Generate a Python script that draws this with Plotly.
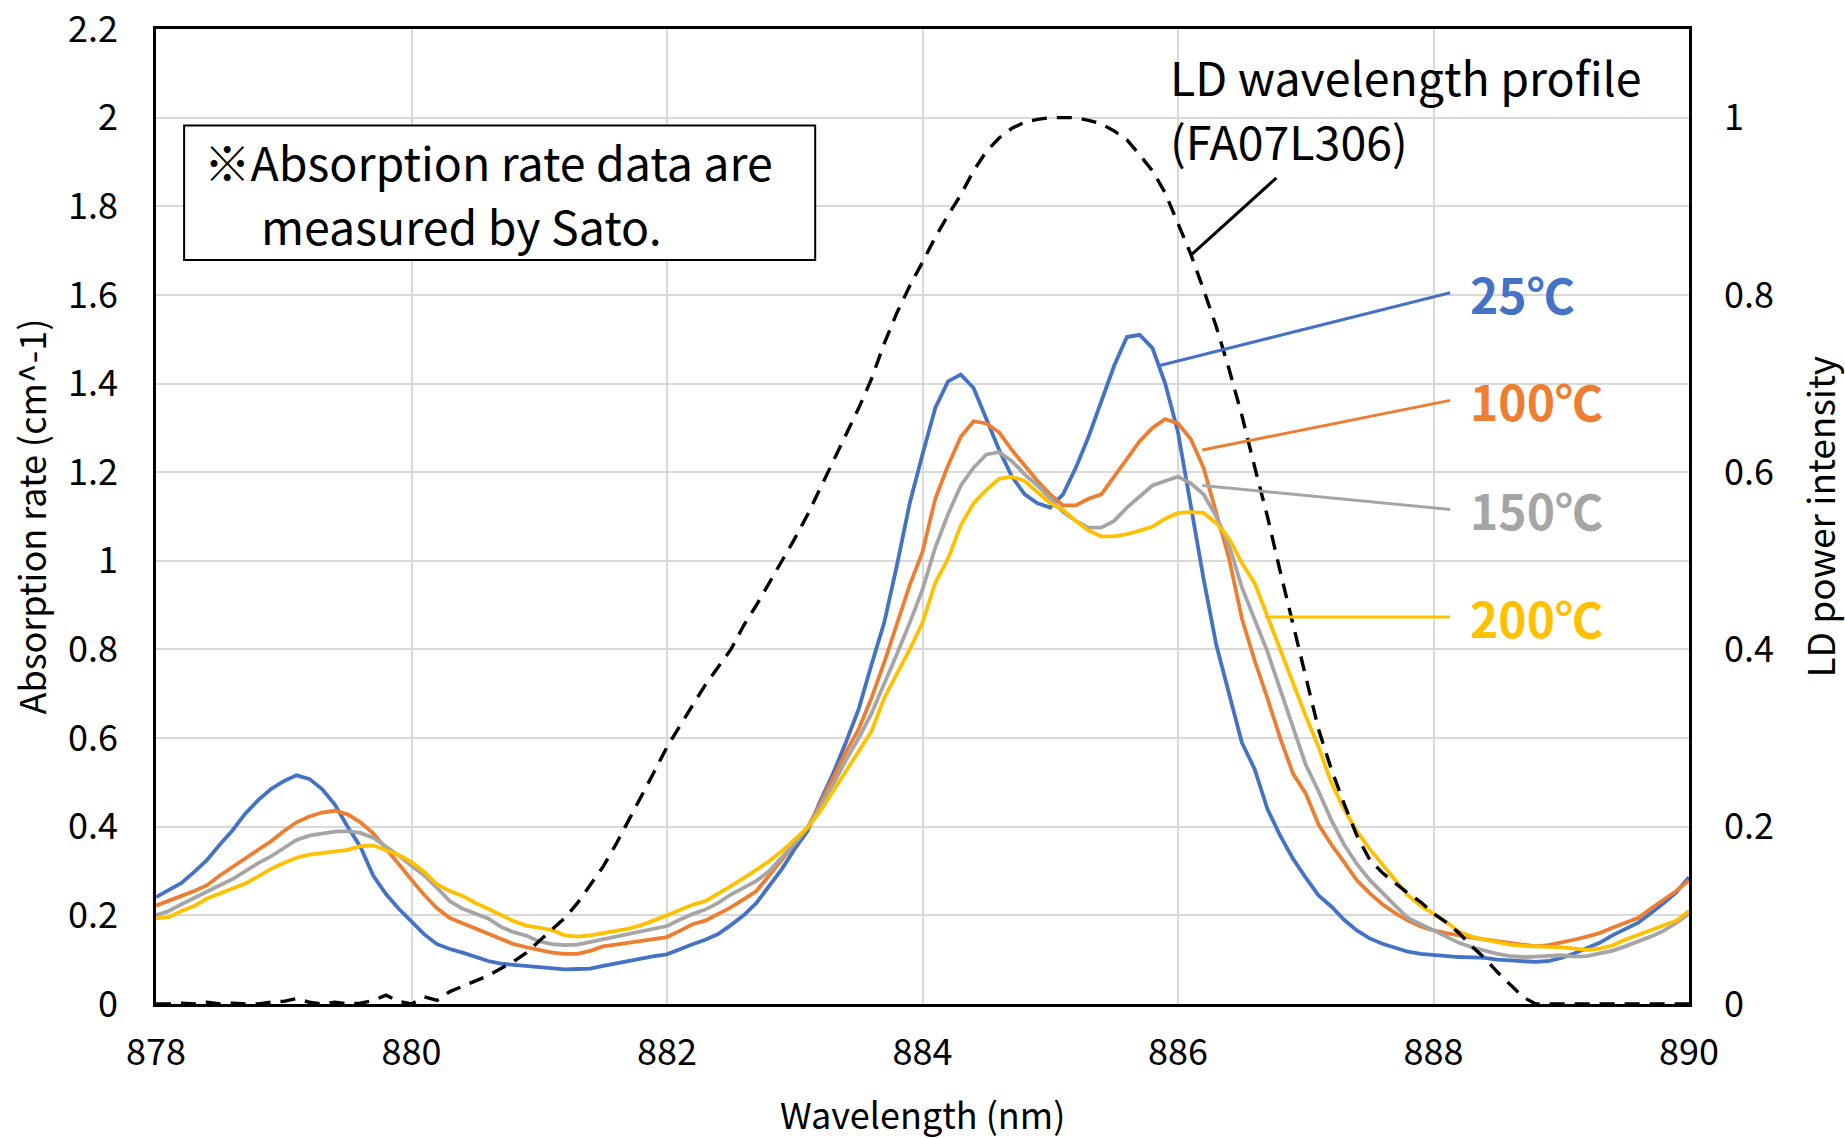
import plotly.graph_objects as go

# ---------------- data ----------------
wavelength = [round(878 + 0.1 * i, 1) for i in range(121)]

abs_25c = [
    0.241, 0.256, 0.273, 0.298, 0.325, 0.360, 0.392, 0.430, 0.460, 0.485,
    0.503, 0.516, 0.508, 0.485, 0.450, 0.400, 0.355, 0.290, 0.248, 0.215,
    0.185, 0.157, 0.135, 0.124, 0.116, 0.106, 0.097, 0.091, 0.088, 0.085,
    0.083, 0.079, 0.078, 0.079, 0.080, 0.086, 0.092, 0.097, 0.103, 0.108,
    0.112, 0.124, 0.135, 0.145, 0.158, 0.178, 0.200, 0.228, 0.265, 0.305,
    0.350, 0.390, 0.458, 0.520, 0.590, 0.665, 0.765, 0.860, 0.990, 1.130,
    1.240, 1.345, 1.405, 1.420, 1.390, 1.320, 1.250, 1.190, 1.150, 1.130,
    1.120, 1.150, 1.210, 1.280, 1.360, 1.440, 1.505, 1.510, 1.480, 1.400,
    1.290, 1.120, 0.960, 0.810, 0.700, 0.590, 0.530, 0.440, 0.380, 0.328,
    0.285, 0.245, 0.220, 0.190, 0.166, 0.148, 0.136, 0.126, 0.118, 0.113,
    0.110, 0.108, 0.106, 0.105, 0.104, 0.100, 0.098, 0.096, 0.095, 0.097,
    0.104, 0.114, 0.126, 0.138, 0.155, 0.170, 0.183, 0.205, 0.227, 0.252,
    0.286,
]

abs_100c = [
    0.222, 0.234, 0.244, 0.255, 0.268, 0.290, 0.310, 0.330, 0.348, 0.367,
    0.390, 0.410, 0.423, 0.432, 0.436, 0.428, 0.410, 0.385, 0.352, 0.316,
    0.280, 0.246, 0.216, 0.194, 0.182, 0.170, 0.158, 0.147, 0.135, 0.128,
    0.122, 0.116, 0.113, 0.113, 0.120, 0.130, 0.134, 0.138, 0.142, 0.146,
    0.151, 0.165, 0.180, 0.188, 0.202, 0.218, 0.236, 0.255, 0.290, 0.325,
    0.362, 0.398, 0.452, 0.510, 0.568, 0.620, 0.690, 0.770, 0.860, 0.945,
    1.020, 1.140, 1.215, 1.280, 1.315, 1.310, 1.290, 1.250, 1.215, 1.180,
    1.150, 1.125, 1.125, 1.140, 1.150, 1.190, 1.230, 1.270, 1.300, 1.320,
    1.310, 1.275, 1.210, 1.110, 1.005, 0.870, 0.775, 0.690, 0.600, 0.520,
    0.475, 0.405, 0.360, 0.320, 0.279, 0.250, 0.225, 0.205, 0.188, 0.175,
    0.166, 0.160, 0.154, 0.150, 0.146, 0.142, 0.138, 0.133, 0.130, 0.133,
    0.138, 0.145, 0.152, 0.160, 0.172, 0.182, 0.194, 0.215, 0.235, 0.255,
    0.279,
]

abs_150c = [
    0.200, 0.210, 0.225, 0.240, 0.254, 0.268, 0.282, 0.300, 0.318, 0.333,
    0.352, 0.370, 0.380, 0.385, 0.389, 0.390, 0.386, 0.375, 0.356, 0.335,
    0.312, 0.290, 0.262, 0.232, 0.215, 0.205, 0.193, 0.174, 0.162, 0.154,
    0.141, 0.135, 0.133, 0.134, 0.140, 0.145, 0.150, 0.156, 0.162, 0.169,
    0.176, 0.190, 0.203, 0.213, 0.228, 0.247, 0.262, 0.278, 0.300, 0.330,
    0.362, 0.398, 0.445, 0.495, 0.550, 0.600, 0.655, 0.720, 0.790, 0.860,
    0.935, 1.030, 1.105, 1.170, 1.210, 1.240, 1.245, 1.225, 1.195, 1.170,
    1.140, 1.110, 1.090, 1.075, 1.075, 1.090, 1.120, 1.145, 1.170, 1.180,
    1.190, 1.175, 1.150, 1.100, 1.035, 0.940, 0.865, 0.795, 0.710, 0.625,
    0.540, 0.480, 0.415, 0.360, 0.316, 0.280, 0.250, 0.222, 0.194, 0.180,
    0.166, 0.152, 0.138, 0.128, 0.120, 0.113, 0.108, 0.106, 0.107, 0.109,
    0.110, 0.107, 0.108, 0.114, 0.120, 0.130, 0.140, 0.152, 0.165, 0.183,
    0.204,
]

abs_200c = [
    0.193, 0.196, 0.210, 0.221, 0.238, 0.250, 0.261, 0.272, 0.288, 0.305,
    0.318, 0.330, 0.337, 0.340, 0.343, 0.348, 0.356, 0.358, 0.347, 0.336,
    0.320, 0.298, 0.270, 0.255, 0.244, 0.228, 0.215, 0.200, 0.187, 0.177,
    0.171, 0.167, 0.155, 0.152, 0.155, 0.160, 0.165, 0.170, 0.178, 0.188,
    0.200, 0.212, 0.224, 0.232, 0.248, 0.266, 0.284, 0.303, 0.322, 0.345,
    0.372, 0.398, 0.435, 0.480, 0.525, 0.570, 0.615, 0.690, 0.745, 0.800,
    0.860, 0.950, 1.005, 1.080, 1.130, 1.160, 1.185, 1.190, 1.180, 1.155,
    1.130, 1.115, 1.090, 1.068, 1.055, 1.055, 1.060, 1.068, 1.077, 1.095,
    1.108, 1.110, 1.108, 1.085, 1.050, 0.995, 0.950, 0.875, 0.800, 0.720,
    0.650, 0.580, 0.500, 0.440, 0.390, 0.350, 0.315, 0.280, 0.245, 0.222,
    0.204, 0.185, 0.163, 0.152, 0.145, 0.139, 0.134, 0.131, 0.129, 0.129,
    0.128, 0.124, 0.122, 0.125, 0.132, 0.145, 0.156, 0.168, 0.178, 0.188,
    0.210,
]

ld_profile = [
    0.000, 0.000, 0.001, 0.000, 0.002, 0.000, 0.001, 0.000, 0.000, 0.002,
    0.003, 0.006, 0.002, 0.000, 0.002, 0.000, 0.001, 0.004, 0.010, 0.003,
    0.000, 0.008, 0.004, 0.014, 0.020, 0.026, 0.032, 0.040, 0.048, 0.058,
    0.071, 0.083, 0.097, 0.114, 0.134, 0.155, 0.180, 0.207, 0.236, 0.262,
    0.290, 0.314, 0.337, 0.360, 0.380, 0.400, 0.427, 0.450, 0.475, 0.500,
    0.525, 0.552, 0.582, 0.610, 0.640, 0.672, 0.705, 0.745, 0.780, 0.810,
    0.837, 0.865, 0.890, 0.913, 0.940, 0.962, 0.977, 0.988, 0.995, 0.998,
    1.000, 1.000, 1.000, 0.997, 0.993, 0.985, 0.975, 0.958, 0.940, 0.915,
    0.880, 0.846, 0.806, 0.764, 0.716, 0.664, 0.606, 0.550, 0.488, 0.428,
    0.366, 0.310, 0.265, 0.226, 0.190, 0.163, 0.148, 0.136, 0.125, 0.115,
    0.102, 0.092, 0.080, 0.065, 0.052, 0.036, 0.022, 0.008, 0.000, 0.000,
    0.000, 0.000, 0.000, 0.000, 0.000, 0.000, 0.000, 0.000, 0.000, 0.000,
    0.000,
]

series_names = ["25℃", "100℃", "150℃", "200℃"]
series_values = [abs_25c, abs_100c, abs_150c, abs_200c]
series_colors = ["#4472C4", "#ED7D31", "#A5A5A5", "#FFC000"]

x_ticks = [878, 880, 882, 884, 886, 888, 890]
y_ticks = [0, 0.2, 0.4, 0.6, 0.8, 1.0, 1.2, 1.4, 1.6, 1.8, 2.0, 2.2]
y_tick_text = ["0", "0.2", "0.4", "0.6", "0.8", "1", "1.2", "1.4", "1.6", "1.8", "2", "2.2"]
y2_ticks = [0, 0.2, 0.4, 0.6, 0.8, 1.0]
y2_tick_text = ["0", "0.2", "0.4", "0.6", "0.8", "1"]

# label callouts: (point on curve) -> (end of leader), label at right
leader_start = [(885.85, 1.44), (886.19, 1.25), (886.19, 1.17), (886.68, 0.873)]
leader_end = [(888.13, 1.605), (888.13, 1.362), (888.13, 1.116), (888.13, 0.873)]
label_x = 888.27

FONT = "Noto Sans CJK JP, Noto Sans, sans-serif"
Y_MAX = 2.2

fig = go.Figure()

for name, vals, col in zip(series_names, series_values, series_colors):
    fig.add_trace(go.Scatter(x=wavelength, y=vals, mode="lines", name=name,
                             line=dict(color=col, width=3.8), yaxis="y"))

fig.add_trace(go.Scatter(x=wavelength, y=ld_profile, mode="lines",
                         name="LD wavelength profile",
                         line=dict(color="black", width=3.4, dash="15px,10px"),
                         yaxis="y2", cliponaxis=False))

shapes = []
annotations = []

# callout leaders and labels
for (x0, y0), (x1, y1), name, col in zip(leader_start, leader_end, series_names, series_colors):
    shapes.append(dict(type="line", xref="x", yref="y", x0=x0, y0=y0, x1=x1, y1=y1,
                       line=dict(color=col, width=3)))
    annotations.append(dict(x=label_x, y=y1, xref="x", yref="y", text="<b>" + name + "</b>",
                            showarrow=False, xanchor="left", yanchor="middle",
                            font=dict(family=FONT, size=48, color=col)))

# LD profile callout
shapes.append(dict(type="line", xref="x", yref="y", x0=886.77, y0=1.864, x1=886.11, y1=1.692,
                   line=dict(color="black", width=3)))
annotations.append(dict(x=885.92, y=2.095, xref="x", yref="y", text="LD wavelength profile",
                        showarrow=False, xanchor="left", yanchor="middle",
                        font=dict(family=FONT, size=46.5, color="black")))
annotations.append(dict(x=885.92, y=1.950, xref="x", yref="y", text="(FA07L306)",
                        showarrow=False, xanchor="left", yanchor="middle",
                        font=dict(family=FONT, size=46.5, color="black")))

# note box
shapes.append(dict(type="rect", xref="x", yref="y", x0=878.22, y0=1.679, x1=883.16, y1=1.982,
                   line=dict(color="black", width=2), fillcolor="white", layer="above"))
annotations.append(dict(x=878.36, y=1.904, xref="x", yref="y", text="※Absorption rate data are",
                        showarrow=False, xanchor="left", yanchor="middle",
                        font=dict(family=FONT, size=46.5, color="black")))
annotations.append(dict(x=878.81, y=1.760, xref="x", yref="y", text="measured by Sato.",
                        showarrow=False, xanchor="left", yanchor="middle",
                        font=dict(family=FONT, size=46.5, color="black")))

# axis titles
annotations.append(dict(x=0, y=0.5, xref="paper", yref="paper", text="Absorption rate (cm^-1)",
                        showarrow=False, textangle=-90, xanchor="center", yanchor="middle",
                        xshift=-127, font=dict(family=FONT, size=36, color="black")))
annotations.append(dict(x=1, y=0.5, xref="paper", yref="paper", text="LD power intensity",
                        showarrow=False, textangle=-90, xanchor="center", yanchor="middle",
                        xshift=129, font=dict(family=FONT, size=37, color="black")))
annotations.append(dict(x=0.5, y=0, xref="paper", yref="paper", text="Wavelength (nm)",
                        showarrow=False, xanchor="center", yanchor="middle",
                        yshift=-109, font=dict(family=FONT, size=36, color="black")))

fig.update_layout(
    width=1845, height=1138,
    margin=dict(l=156, r=156, t=29, b=134, autoexpand=False),
    plot_bgcolor="white", paper_bgcolor="white",
    showlegend=False,
    font=dict(family=FONT, size=36, color="black"),
    shapes=shapes, annotations=annotations,
    xaxis=dict(range=[878, 890], tickvals=x_ticks, ticktext=[str(t) for t in x_ticks],
               showgrid=True, gridcolor="#D9D9D9", gridwidth=1.5,
               showline=True, linecolor="black", linewidth=2.5, mirror=True,
               ticks="", ticklabelstandoff=15, zeroline=False, automargin=False,
               ticklabeloverflow="allow",
               tickfont=dict(family=FONT, size=36)),
    yaxis=dict(range=[0, Y_MAX], tickvals=y_ticks, ticktext=y_tick_text,
               showgrid=True, gridcolor="#D9D9D9", gridwidth=1.5,
               showline=True, linecolor="black", linewidth=2.5, mirror=True,
               ticks="", ticklabelstandoff=28, zeroline=False, automargin=False,
               ticklabeloverflow="allow",
               tickfont=dict(family=FONT, size=36)),
    yaxis2=dict(range=[0, Y_MAX / 2], tickvals=y2_ticks, ticktext=y2_tick_text,
                overlaying="y", side="right", showgrid=False, showline=False,
                ticks="", ticklabelstandoff=34, zeroline=False, automargin=False,
                ticklabeloverflow="allow",
                tickfont=dict(family=FONT, size=36)),
)

fig.write_html("out.html")
